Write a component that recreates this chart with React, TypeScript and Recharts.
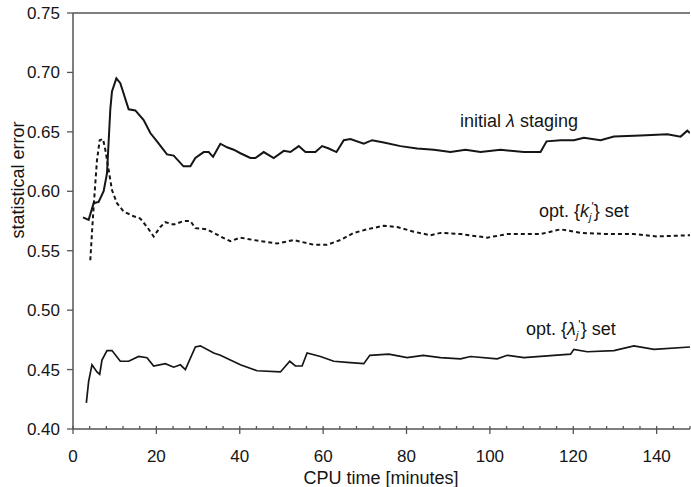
import { CartesianGrid, Line, LineChart, ReferenceLine, XAxis, YAxis } from 'recharts';

// initial lambda staging (solid, top)
const stagingTime = [
  2.4, 3.75, 4.95, 6.15, 7.35, 8.15, 8.95, 9.35, 10.4, 11.35, 13.35, 14.95, 16.95, 18.55, 20.15, 22.55,
  24.15, 26.5, 28.15, 29.35, 31.35, 32.55, 33.6, 35.35, 36.95, 38.55, 40.15, 42.55, 43.75, 45.75, 48.15,
  50.55, 52.15, 54.15, 55.75, 58.15, 59.75, 61.35, 63.2, 64.95, 66.55, 69.75, 71.75, 74.55, 78.55, 82.55,
  86.55, 90.55, 94.15, 97.75, 102.55, 108.15, 112.15, 113.6, 116.95, 120.15, 122.55, 126.55, 129.75,
  136.15, 142.55, 145.75, 147.35, 148,
];
const stagingError = [
  0.578, 0.576, 0.59, 0.591, 0.6, 0.615, 0.669, 0.684, 0.695, 0.691, 0.669, 0.668, 0.66, 0.649, 0.642, 0.631,
  0.63, 0.621, 0.621, 0.628, 0.633, 0.633, 0.629, 0.64, 0.637, 0.635, 0.632, 0.628, 0.628, 0.633, 0.628,
  0.634, 0.633, 0.638, 0.633, 0.633, 0.638, 0.636, 0.633, 0.643, 0.644, 0.64, 0.643, 0.641, 0.638, 0.636,
  0.635, 0.633, 0.635, 0.633, 0.635, 0.633, 0.633, 0.642, 0.643, 0.643, 0.645, 0.643, 0.646,
  0.647, 0.648, 0.646, 0.651, 0.649,
];

// opt. {k_j'} set (dashed, middle)
const kTime = [
  4.15, 4.55, 4.95, 5.75, 6.4, 7.2, 7.75, 8.55, 9.35, 10.55, 12.15, 14.55, 16.15, 17.75, 19.35, 20.95,
  22.15, 24.15, 26.55, 28.15, 29.35, 32.15, 35.35, 37.75, 40.15, 43.35, 48.95, 52.95, 57.75, 60.95, 64.15,
  67.35, 70.55, 74.55, 77.75, 81.75, 85.75, 88.15, 92.95, 99.35, 104.15, 112.15, 116.95, 121.75, 128.15,
  134.55, 140.15, 148,
];
const kError = [
  0.542, 0.565, 0.587, 0.626, 0.643, 0.644, 0.635, 0.618, 0.601, 0.59, 0.583, 0.579, 0.577, 0.57, 0.562, 0.57,
  0.574, 0.572, 0.575, 0.575, 0.569, 0.568, 0.562, 0.558, 0.561, 0.559, 0.556, 0.559, 0.555, 0.555, 0.559,
  0.565, 0.568, 0.571, 0.57, 0.566, 0.563, 0.565, 0.564, 0.561, 0.564, 0.564, 0.568, 0.565, 0.564,
  0.564, 0.562, 0.563,
];

// opt. {lambda_j'} set (thin, bottom)
const lambdaTime = [
  3.2, 3.75, 4.55, 5.75, 6.4, 6.95, 8.15, 9.35, 11.35, 13.35, 15.75, 17.75, 19.35, 22.15, 24.15, 25.75,
  26.95, 29.35, 30.55, 33.75, 35.35, 40.15, 44.15, 49.75, 52.0, 53.35, 54.95, 56.15, 59.35, 62.55, 65.75,
  69.75, 71.2, 75.75, 80.15, 84.0, 88.15, 92.95, 95.35, 101.75, 104.15, 108.15, 119.35, 120.15, 123.35,
  129.75, 134.55, 139.35, 148,
];
const lambdaError = [
  0.422, 0.44, 0.454, 0.448, 0.446, 0.458, 0.466, 0.466, 0.457, 0.457, 0.461, 0.46, 0.453, 0.455, 0.452, 0.454,
  0.45, 0.469, 0.47, 0.464, 0.462, 0.454, 0.449, 0.448, 0.457, 0.453, 0.453, 0.464, 0.461, 0.457, 0.456,
  0.455, 0.462, 0.463, 0.46, 0.462, 0.46, 0.459, 0.461, 0.459, 0.462, 0.46, 0.463, 0.467, 0.465,
  0.466, 0.47, 0.467, 0.469,
];

const xTicks = [
  0, 4, 8, 12, 16, 20, 24, 28, 32, 36, 40, 44, 48, 52, 56, 60, 64, 68, 72, 76, 80, 84, 88, 92, 96, 100,
  104, 108, 112, 116, 120, 124, 128, 132, 136, 140, 144, 148,
];
const xLabelled = [0, 20, 40, 60, 80, 100, 120, 140];
const yTicks = [0.4, 0.45, 0.5, 0.55, 0.6, 0.65, 0.7, 0.75];

const pts = (xs: number[], ys: number[]) => xs.map((x, i) => ({ x, y: ys[i] }));

const FONT = '"Liberation Sans", Arial, sans-serif';
const AXIS = '#555';
const INK = '#151515';

function XTick({ x, y, payload }: any) {
  const major = xLabelled.includes(payload.value);
  return (
    <g>
      <line x1={x} x2={x} y1={y - 3} y2={major ? y + 5 : y} stroke={AXIS} strokeWidth={1.3} />
      {major && (
        <text x={x} y={y + 33} textAnchor="middle" fontSize={17} fill={INK} fontFamily={FONT}>
          {payload.value}
        </text>
      )}
    </g>
  );
}

export default function App() {
  return (
    <div style={{ position: 'absolute', left: 0, top: 0, width: 691, height: 487, background: '#fff' }}>
      <LineChart width={691} height={487} margin={{ top: 13, right: 1, bottom: 28, left: 0 }}>
        <CartesianGrid stroke="none" />
        <XAxis
          dataKey="x"
          type="number"
          domain={[0, 148]}
          ticks={xTicks}
          interval={0}
          height={30}
          tickSize={0}
          tickMargin={0}
          tickLine={false}
          tick={<XTick />}
          axisLine={{ stroke: AXIS, strokeWidth: 1.5 }}
          allowDataOverflow
        />
        <YAxis
          type="number"
          domain={[0.4, 0.75]}
          ticks={yTicks}
          interval={0}
          width={73}
          tickSize={6}
          tickMargin={7}
          tickFormatter={(v: number) => v.toFixed(2)}
          tick={{ fontSize: 17, fill: INK, fontFamily: FONT }}
          tickLine={{ stroke: AXIS, strokeWidth: 1.3 }}
          axisLine={{ stroke: AXIS, strokeWidth: 1.5 }}
          allowDataOverflow
        />
        <ReferenceLine y={0.75} stroke={AXIS} strokeWidth={1.5} />
        <Line
          data={pts(stagingTime, stagingError)}
          dataKey="y"
          type="linear"
          stroke={INK}
          strokeWidth={2}
          dot={false}
          isAnimationActive={false}
        />
        <Line
          data={pts(kTime, kError)}
          dataKey="y"
          type="linear"
          stroke={INK}
          strokeWidth={2}
          strokeDasharray="4 3"
          dot={false}
          isAnimationActive={false}
        />
        <Line
          data={pts(lambdaTime, lambdaError)}
          dataKey="y"
          type="linear"
          stroke={INK}
          strokeWidth={1.7}
          dot={false}
          isAnimationActive={false}
        />
      </LineChart>
      <svg
        width={691}
        height={487}
        style={{ position: 'absolute', left: 0, top: 0, pointerEvents: 'none' }}
        fontFamily={FONT}
        fill={INK}
      >
        <text x={381} y={484} textAnchor="middle" fontSize={18}>
          CPU time [minutes]
        </text>
        <text x={24} y={180} textAnchor="middle" fontSize={18} transform="rotate(-90 24 180)">
          statistical error
        </text>
        <text x={460} y={127} fontSize={18}>
          initial <tspan fontStyle="italic">λ</tspan> staging
        </text>
        <text x={539} y={217} fontSize={18}>
          opt. {'{'}
          <tspan fontStyle="italic">k</tspan>
          <tspan fontStyle="italic" fontSize={11} dy={4}>j</tspan>
          <tspan fontSize={12} dy={-10}>'</tspan>
          <tspan dy={6}>{'}'} set</tspan>
        </text>
        <text x={526} y={335} fontSize={18}>
          opt. {'{'}
          <tspan fontStyle="italic">λ</tspan>
          <tspan fontStyle="italic" fontSize={11} dy={4}>j</tspan>
          <tspan fontSize={12} dy={-10}>'</tspan>
          <tspan dy={6}>{'}'} set</tspan>
        </text>
      </svg>
    </div>
  );
}
